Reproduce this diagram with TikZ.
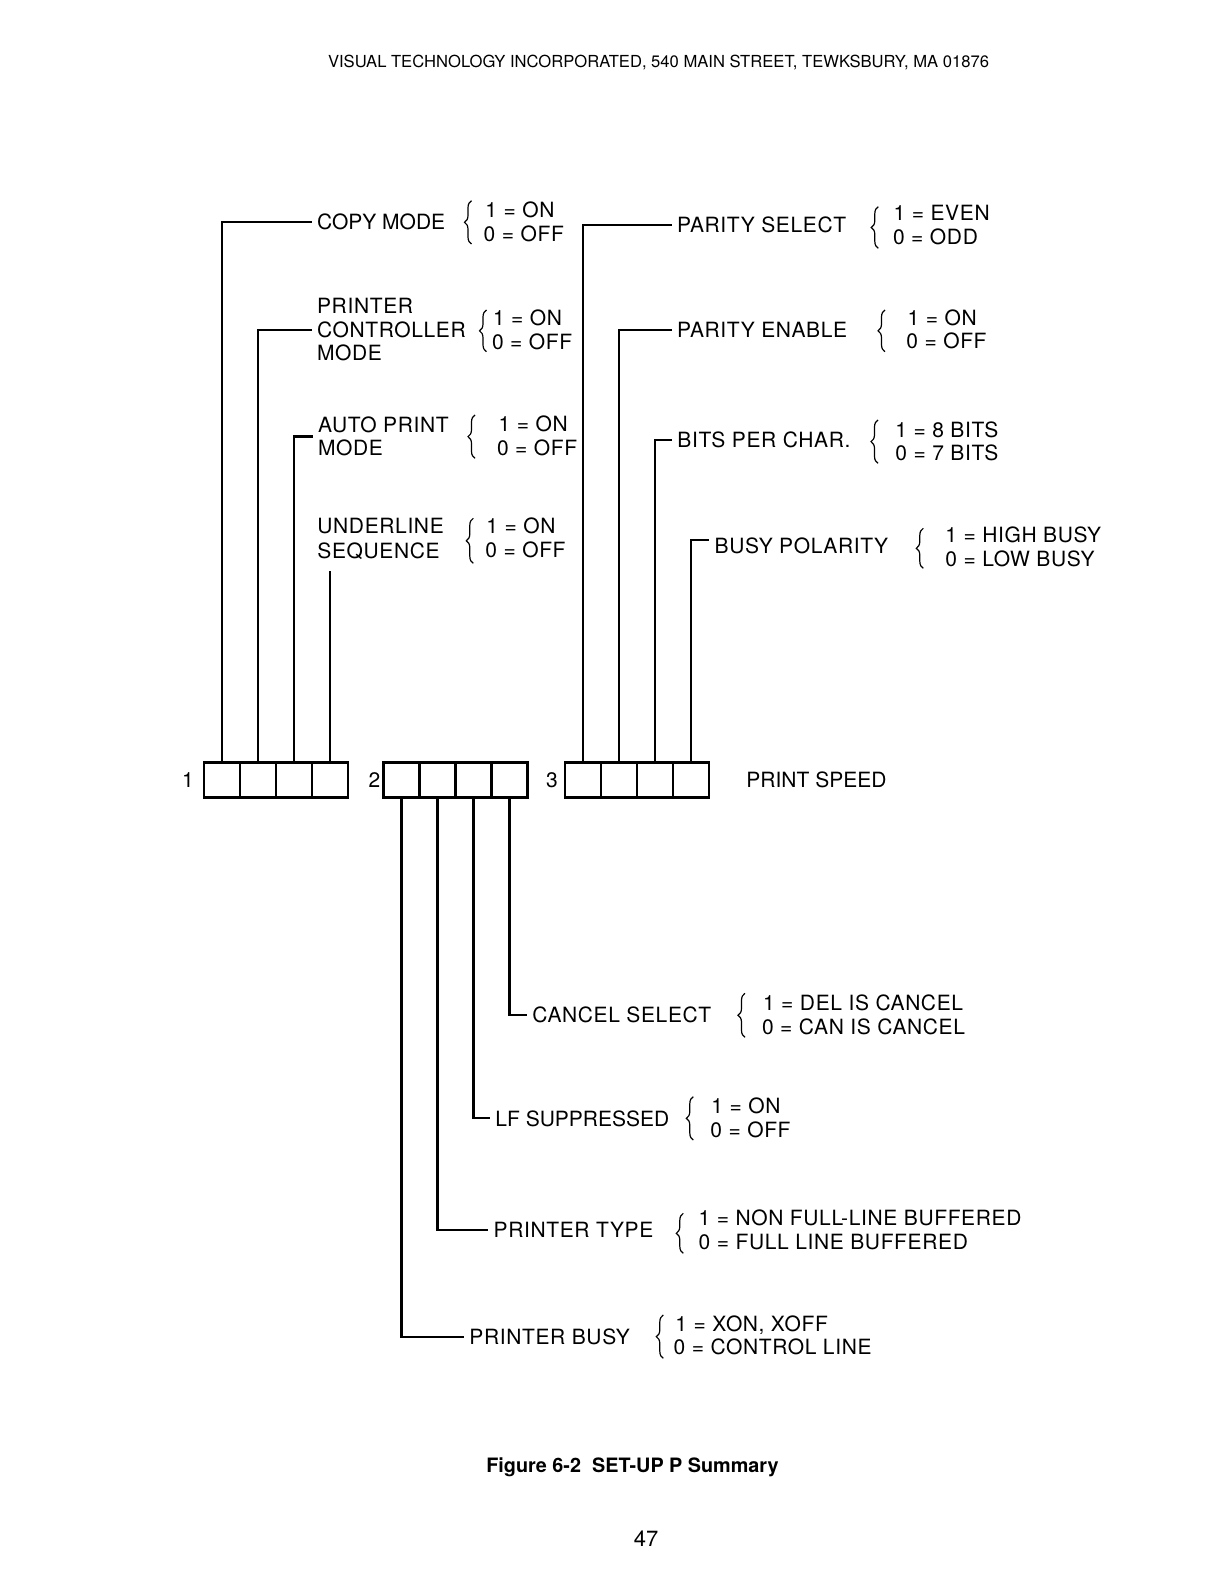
\documentclass[tikz,border=0pt]{standalone}
\usepackage{fontspec}
\setmainfont{TeX Gyre Heros}
\newfontfamily\lblfont[LetterSpace=3]{TeX Gyre Heros}
\usetikzlibrary{decorations.pathreplacing,calc}
\begin{document}
\begin{tikzpicture}[x=0.5pt,y=-0.5pt,
  lbl/.style={font=\lblfont\fontsize{10.5}{12}\selectfont, inner xsep=2.5pt, inner ysep=0pt, anchor=base west},
  lbln/.style={lbl, font=\rmfamily\fontsize{10.5}{12}\selectfont},
  val/.style={font=\lblfont\fontsize{10.5}{12}\selectfont, inner sep=0pt, anchor=base west},
  cell/.style={draw, line width=1.1pt, minimum width=18pt, minimum height=17.5pt, inner sep=0pt},
  wire/.style={line width=1.1pt},
  brc/.style={decorate, decoration={brace, amplitude=3.5pt}, line width=0.6pt}]
\useasboundingbox[fill=white] (0,0) rectangle (1224,1582);

% header, caption, page number
\node[font=\fontsize{8.3}{10}\selectfont, anchor=base, inner sep=0pt] (hdr) at (658.5,68)
  {VISUAL TECHNOLOGY INCORPORATED, 540 MAIN STREET, TEWKSBURY, MA 01876};
\node[font=\bfseries\fontsize{9.9}{12}\selectfont, anchor=base, inner sep=0pt] (cap) at (632.5,1472)
  {Figure 6-2\ \ SET-UP P Summary};
\node[font=\fontsize{11}{13}\selectfont, anchor=base, inner sep=0pt] (pg) at (646,1546) {47};

% switch boxes
\foreach \i/\x in {1/222,2/258,3/294,4/330} {\node[cell] (c1\i) at (\x,780) {};}
\foreach \i/\x in {1/401.5,2/437.5,3/473.5,4/509.5} {\node[cell] (c2\i) at (\x,780) {};}
\foreach \i/\x in {1/583,2/619,3/655,4/691} {\node[cell] (c3\i) at (\x,780) {};}
\node[val, anchor=base] (n1) at (188,787.5) {1};
\node[val, anchor=base] (n2) at (374.5,787.5) {2};
\node[val, anchor=base] (n3) at (552,787.5) {3};
\node[lbln] (pspeed) at (741,787.5) {PRINT SPEED};

% left column labels
\node[lbln] (copy) at (311.7,230) {COPY MODE};
\node[lbl] (prn) at (311.7,313.3) {PRINTER};
\node[lbl] (ctrl) at (311.7,337.3) {CONTROLLER};
\node[lbl] (pmode) at (311.7,361) {MODE};
\node[lbl] (auto1) at (312.7,432.3) {AUTO PRINT};
\node[lbl] (auto2) at (312.7,456) {MODE};
\node[lbl] (und) at (312,533.3) {UNDERLINE};
\node[lbl] (seq) at (312,559) {SEQUENCE};

% right column labels
\node[lbl] (psel) at (671.7,232.3) {PARITY SELECT};
\node[lbl] (pen) at (671.7,337.3) {PARITY ENABLE};
\node[lbl] (bits) at (672,447.3) {BITS PER CHAR.};
\node[lbl] (busy) at (709.3,553.3) {BUSY POLARITY};

% bottom labels
\node[lbl] (cancel) at (527,1022.3) {CANCEL SELECT};
\node[lbln] (lf) at (490,1126) {LF SUPPRESSED};
\node[lbl] (ptype) at (488.3,1237.3) {PRINTER TYPE};
\node[lbl] (pbusy) at (464,1344.3) {PRINTER BUSY};

% values
\node[val] (copy1) at (485,217.7) {1 = ON};
\node[val] (copy0) at (483.3,241.7) {0 = OFF};
\node[val] (pcm1) at (492.7,325.7) {1 = ON};
\node[val] (pcm0) at (491.7,349.3) {0 = OFF};
\node[val] (auto1v) at (498.3,432) {1 = ON};
\node[val] (auto0v) at (496.7,456) {0 = OFF};
\node[val] (und1) at (486,533) {1 = ON};
\node[val] (und0) at (485,557) {0 = OFF};
\node[val] (psel1) at (893.3,221) {1 = EVEN};
\node[val] (psel0) at (892.7,244.3) {0 = ODD};
\node[val] (pen1) at (907.3,325.7) {1 = ON};
\node[val] (pen0) at (906,349) {0 = OFF};
\node[val] (bits1) at (895,437.3) {1 = 8 BITS};
\node[val] (bits0) at (895,460.7) {0 = 7 BITS};
\node[val] (busy1) at (945,542.3) {1 = HIGH BUSY};
\node[val] (busy0) at (945,566.7) {0 = LOW BUSY};
\node[val] (cancel1) at (762.7,1010) {1 = DEL IS CANCEL};
\node[val] (cancel0) at (761.7,1034.3) {0 = CAN IS CANCEL};
\node[val] (lf1) at (711,1113.3) {1 = ON};
\node[val] (lf0) at (710,1137.7) {0 = OFF};
\node[val] (ptype1) at (698.3,1225) {1 = NON FULL-LINE BUFFERED};
\node[val] (ptype0) at (698.3,1249) {0 = FULL LINE BUFFERED};
\node[val] (pbusy1) at (675,1331.7) {1 = XON, XOFF};
\node[val] (pbusy0) at (673.3,1354.3) {0 = CONTROL LINE};

% braces
\draw[brc] (471.5,244) -- (471.5,200.7);
\draw[brc] (486.5,351.7) -- (486.5,310);
\draw[brc] (475,458.3) -- (475,415);
\draw[brc] (473.3,563.3) -- (473.3,518.3);
\draw[brc] (878.3,248.3) -- (878.3,206.7);
\draw[brc] (885,351.7) -- (885,310);
\draw[brc] (878,463.3) -- (878,420);
\draw[brc] (923.3,568.3) -- (923.3,528.3);
\draw[brc] (745,1037.3) -- (745,993.3);
\draw[brc] (693.3,1140) -- (693.3,1096.7);
\draw[brc] (683.3,1253.3) -- (683.3,1213.3);
\draw[brc] (663.3,1358.3) -- (663.3,1315);

% connectors
\coordinate (autoc) at ($(auto1.west)!0.5!(auto2.west)$);
\path (seq.base) ++(0,11.7) coordinate (seqb);
\coordinate (uend) at (c14.north |- seqb);
\draw[wire] (c11.north) |- (copy.west);
\draw[wire] (c12.north) |- (ctrl.west);
\draw[wire] (c13.north) |- (autoc);
\draw[wire] (c14.north) -- (uend);
\draw[wire] (c31.north) |- (psel.west);
\draw[wire] (c32.north) |- (pen.west);
\draw[wire] (c33.north) |- (bits.west);
\draw[wire] (c34.north) |- ([yshift=3pt]busy.west);
\draw[wire] (c24.south) |- (cancel.west);
\draw[wire] (c23.south) |- (lf.west);
\draw[wire] (c22.south) |- (ptype.west);
\draw[wire] (c21.south) |- (pbusy.west);
\end{tikzpicture}
\end{document}
